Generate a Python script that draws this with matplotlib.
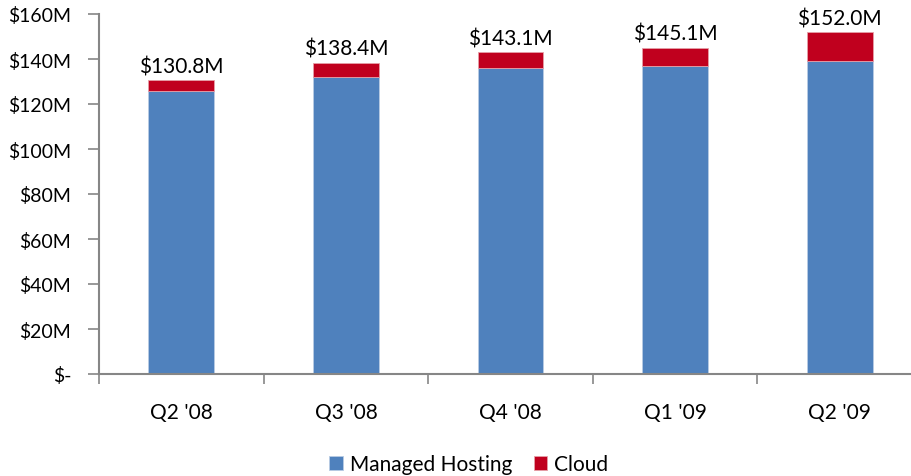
import matplotlib
matplotlib.use("Agg")
import matplotlib.pyplot as plt
import numpy as np

categories = ["Q2 '08", "Q3 '08", "Q4 '08", "Q1 '09", "Q2 '09"]
managed = [125.8, 132.1, 136.0, 136.8, 139.1]
totals = [130.8, 138.4, 143.1, 145.1, 152.0]
cloud = [t - m for t, m in zip(totals, managed)]
total_labels = ["$130.8M", "$138.4M", "$143.1M", "$145.1M", "$152.0M"]
yticks = [0, 20, 40, 60, 80, 100, 120, 140, 160]
ytick_labels = ["$-", "$20M", "$40M", "$60M", "$80M", "$100M", "$120M", "$140M", "$160M"]

plt.rcParams['font.family'] = ['Lato', 'DejaVu Sans']

W, H = 911, 477
fig = plt.figure(figsize=(W / 100, H / 100), dpi=100)
ax = fig.add_axes([99 / W, (H - 375) / H, (922 - 99) / W, 360 / H])

x = np.arange(len(categories))
blue = "#4F81BD"
red = "#C0001E"
ax.bar(x, managed, width=0.4, color=blue, edgecolor="#b8cce4", linewidth=0.6, label="Managed Hosting")
ax.bar(x, cloud, width=0.4, bottom=managed, color=red, edgecolor="#e6a0a8", linewidth=0.6, label="Cloud")

for xi, t, lab in zip(x, totals, total_labels):
    ax.text(xi, t + 1.6, lab, ha="center", va="bottom", fontsize=15, color="black")

ax.set_xlim(-0.5, 4.5)
ax.set_ylim(0, 160)
ax.set_yticks(yticks)
ax.set_yticklabels(ytick_labels, fontsize=14)
ax.set_xticks(x)
ax.set_xticklabels(categories, fontsize=15)
ax.tick_params(axis="x", which="major", length=0, pad=20)
ax.set_xticks(np.arange(-0.5, 5.0, 1.0), minor=True)
ax.tick_params(axis="x", which="minor", length=7, width=1.2, color="#868686", direction="out")
ax.tick_params(axis="y", length=8, width=1.2, color="#868686", direction="out", pad=12)

for s in ["top", "right"]:
    ax.spines[s].set_visible(False)
for s in ["left", "bottom"]:
    ax.spines[s].set_color("#868686")
    ax.spines[s].set_linewidth(1.5)

leg = fig.legend(loc="center", bbox_to_anchor=(469 / W, (H - 465) / H), ncol=2, frameon=False,
                 fontsize=15, handlelength=0.65, handleheight=0.65, handletextpad=0.35, columnspacing=1.0)

fig.savefig("out.png", dpi=100)
